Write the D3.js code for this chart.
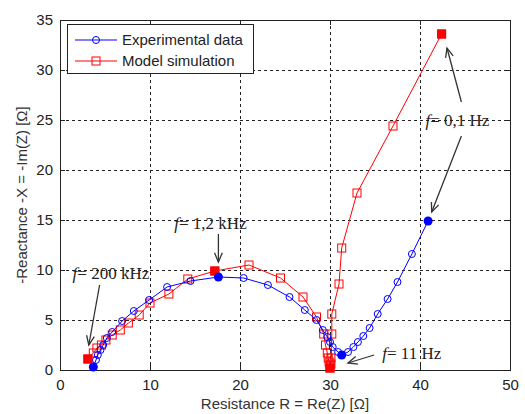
<html>
<head>
<meta charset="utf-8">
<title>Impedance</title>
<script src="https://d3js.org/d3.v7.min.js"></script>
<style>
  body { margin: 0; background: #fff; }
  text { font-family: "Liberation Sans", Arial, sans-serif; }
  .ann { font-family: "Liberation Serif", "Times New Roman", serif; font-size: 17px; fill: #222; }
</style>
</head>
<body>
<script>
    // experimental data (blue circles)
    var expR = [3.7, 4.0, 4.2, 4.5, 4.8, 5.2, 5.8, 6.9, 8.2, 9.9, 11.9, 14.5, 17.6, 20.4, 23.1, 25.5, 27.2, 28.5, 29.2, 29.7, 30.0, 30.3, 30.9, 31.3, 32.0, 32.6, 33.1, 33.7, 34.4, 35.3, 36.4, 37.5, 39.1, 40.9];
    var expX = [0.3, 1.0, 1.5, 2.0, 2.5, 3.2, 3.8, 4.9, 5.9, 7.0, 8.3, 8.9, 9.3, 9.2, 8.5, 7.3, 6.0, 5.0, 4.0, 3.3, 2.8, 2.3, 1.8, 1.5, 1.8, 2.3, 2.8, 3.4, 4.2, 5.6, 7.1, 8.8, 11.6, 14.9];
    var expFilled = [0, 12, 23, 33];

    // model simulation (red squares)
    var modR = [3.1, 3.7, 4.1, 4.6, 5.1, 5.8, 6.7, 7.6, 8.8, 10.0, 12.1, 14.2, 17.2, 21.0, 24.5, 27.0, 28.5, 29.3, 29.5, 29.7, 29.8, 29.9, 30.0, 30.0, 30.1, 30.1, 30.2, 30.2, 31.0, 31.3, 33.0, 37.0, 42.4];
    var modX = [1.1, 1.7, 2.2, 2.5, 3.0, 3.5, 4.0, 4.7, 5.5, 6.7, 7.6, 9.1, 9.9, 10.5, 9.2, 7.3, 5.3, 3.6, 2.5, 1.7, 1.2, 0.8, 0.5, 0.2, 0.6, 1.2, 3.6, 5.6, 8.6, 12.2, 17.7, 24.4, 33.6];
    var modFilled = [0, 12, 23, 32];

    var xTicks = [0, 10, 20, 30, 40, 50];
    var yTicks = [0, 5, 10, 15, 20, 25, 30, 35];

    var legendLabels = ["Experimental data", "Model simulation"];

    // annotations: [text after f, text x, text y, arrows [[x1,y1,x2,y2], ...]] in data units
    var annotations = [
        ["= 200 kHz", 1.4, 9.1, [[4.4, 8.5, 3.2, 2.5]]],
        ["= 1,2 kHz", 12.7, 14.1, [[17.6, 13.6, 17.6, 10.8]]],
        ["= 0,1 Hz", 40.6, 24.4, [[44.6, 26.8, 43.0, 32.2], [44.6, 23.4, 41.3, 15.8]]],
        ["= 11 Hz", 35.8, 1.1, [[34.9, 1.5, 32.0, 0.7]]]
    ];

    var width = 525, height = 414,
        pLeft = 60, pTop = 20, pRight = 510, pBottom = 370;

    var svg = d3.select("body").append("svg")
        .attr("width", width)
        .attr("height", height);

    var x = d3.scaleLinear().domain([0, 50]).range([pLeft, pRight]);
    var y = d3.scaleLinear().domain([0, 35]).range([pBottom, pTop]);

    // grid
    svg.append("g").selectAll("line").data(xTicks.slice(1, -1)).enter().append("line")
        .attr("x1", d => x(d) + 0.5).attr("x2", d => x(d) + 0.5)
        .attr("y1", pTop).attr("y2", pBottom)
        .attr("stroke", "#222").attr("stroke-dasharray", "3,3");
    svg.append("g").selectAll("line").data(yTicks.slice(1, -1)).enter().append("line")
        .attr("y1", d => y(d) + 0.5).attr("y2", d => y(d) + 0.5)
        .attr("x1", pLeft).attr("x2", pRight)
        .attr("stroke", "#222").attr("stroke-dasharray", "3,3");

    // axes
    svg.append("g").attr("transform", "translate(0," + pBottom + ")")
        .call(d3.axisBottom(x).tickValues(xTicks).tickSizeInner(-5).tickSizeOuter(0).tickPadding(9));
    svg.append("g").attr("transform", "translate(" + pLeft + ",0)")
        .call(d3.axisLeft(y).tickValues(yTicks).tickSizeInner(-5).tickSizeOuter(0).tickPadding(7));
    svg.append("g").attr("transform", "translate(0," + pTop + ")")
        .call(d3.axisTop(x).tickValues(xTicks).tickSizeInner(-5).tickSizeOuter(0).tickFormat(""));
    svg.append("g").attr("transform", "translate(" + pRight + ",0)")
        .call(d3.axisRight(y).tickValues(yTicks).tickSizeInner(-5).tickSizeOuter(0).tickFormat(""));
    svg.selectAll(".domain").remove();
    svg.selectAll(".tick line").attr("stroke", "#222");
    svg.selectAll(".tick text").attr("font-size", 15).attr("fill", "#222")
        .attr("font-family", "Liberation Sans, Arial, sans-serif");

    svg.append("rect")
        .attr("x", pLeft + 0.5).attr("y", pTop + 0.5)
        .attr("width", pRight - pLeft).attr("height", pBottom - pTop)
        .attr("fill", "none").attr("stroke", "#222");

    // axis labels
    svg.append("text")
        .attr("x", (pLeft + pRight) / 2).attr("y", 409)
        .attr("text-anchor", "middle").attr("font-size", 15).attr("fill", "#333")
        .text("Resistance R = Re(Z) [\u03A9]");
    svg.append("text")
        .attr("transform", "translate(27," + (pTop + pBottom) / 2 + ") rotate(-90)")
        .attr("text-anchor", "middle").attr("font-size", 15).attr("fill", "#333")
        .text("-Reactance -X = -Im(Z) [\u03A9]");

    var line = d3.line().x(d => x(d[0])).y(d => y(d[1]));
    var expPts = expR.map((r, i) => [r, expX[i]]);
    var modPts = modR.map((r, i) => [r, modX[i]]);

    // model series
    svg.append("path").datum(modPts).attr("d", line)
        .attr("fill", "none").attr("stroke", "#f00").attr("stroke-width", 1);
    svg.append("g").selectAll("rect").data(modPts).enter().append("rect")
        .attr("x", d => x(d[0]) - 4).attr("y", d => y(d[1]) - 4)
        .attr("width", 8).attr("height", 8)
        .attr("fill", "none").attr("stroke", "#f00");

    // experimental series
    svg.append("path").datum(expPts).attr("d", line)
        .attr("fill", "none").attr("stroke", "#00f").attr("stroke-width", 1);
    svg.append("g").selectAll("circle").data(expPts).enter().append("circle")
        .attr("cx", d => x(d[0])).attr("cy", d => y(d[1])).attr("r", 3.5)
        .attr("fill", "none").attr("stroke", "#00f");

    // highlighted frequencies
    svg.append("g").selectAll("rect").data(modFilled.map(i => modPts[i])).enter().append("rect")
        .attr("x", d => x(d[0]) - 4.5).attr("y", d => y(d[1]) - 4.5)
        .attr("width", 9).attr("height", 9).attr("fill", "#f00");
    svg.append("g").selectAll("circle").data(expFilled.map(i => expPts[i])).enter().append("circle")
        .attr("cx", d => x(d[0])).attr("cy", d => y(d[1])).attr("r", 4.5)
        .attr("fill", "#00f");

    // annotations
    function arrow(g, a) {
        var x1 = x(a[0]), y1 = y(a[1]), x2 = x(a[2]), y2 = y(a[3]);
        var ang = Math.atan2(y2 - y1, x2 - x1), hl = 10, hw = 0.4;
        g.append("line").attr("x1", x1).attr("y1", y1).attr("x2", x2).attr("y2", y2)
            .attr("stroke", "#333").attr("stroke-width", 1.3);
        g.append("path")
            .attr("d", "M" + (x2 - hl * Math.cos(ang - hw)) + "," + (y2 - hl * Math.sin(ang - hw)) +
                "L" + x2 + "," + y2 +
                "L" + (x2 - hl * Math.cos(ang + hw)) + "," + (y2 - hl * Math.sin(ang + hw)))
            .attr("fill", "none").attr("stroke", "#333").attr("stroke-width", 1.3);
    }
    annotations.forEach(function (a) {
        var g = svg.append("g");
        var t = g.append("text").attr("class", "ann")
            .attr("x", x(a[1])).attr("y", y(a[2]));
        t.append("tspan").attr("font-style", "italic").text("f");
        t.append("tspan").text(a[0]);
        a[3].forEach(function (ar) { arrow(g, ar); });
    });

    // legend
    var lg = svg.append("g");
    lg.append("rect").attr("x", 67.5).attr("y", 24.5).attr("width", 186).attr("height", 49)
        .attr("fill", "#fff").attr("stroke", "#222");
    var items = [["#00f", "circle"], ["#f00", "square"]];
    items.forEach(function (it, i) {
        var ly = 40 + i * 21;
        lg.append("line").attr("x1", 75).attr("x2", 117).attr("y1", ly).attr("y2", ly)
            .attr("stroke", it[0]);
        if (it[1] === "circle") {
            lg.append("circle").attr("cx", 96).attr("cy", ly).attr("r", 3.5)
                .attr("fill", "none").attr("stroke", it[0]);
        } else {
            lg.append("rect").attr("x", 92).attr("y", ly - 4).attr("width", 8).attr("height", 8)
                .attr("fill", "none").attr("stroke", it[0]);
        }
        lg.append("text").attr("x", 122).attr("y", ly + 5)
            .attr("font-size", 15).attr("fill", "#222")
            .text(legendLabels[i]);
    });
</script>
</body>
</html>
